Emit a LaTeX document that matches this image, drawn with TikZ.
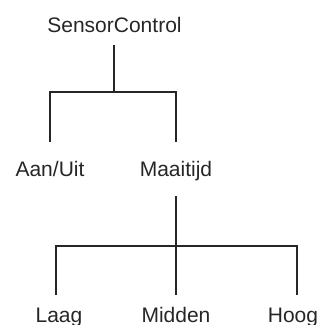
\documentclass[tikz,border=0pt]{standalone}
\usepackage{fontspec}
\setmainfont{Liberation Sans}
\begin{document}
\begin{tikzpicture}[x=1pt,y=1pt,
  lbl/.style={anchor=base,inner sep=0pt,font=\fontsize{21}{24}\selectfont,text=black!85},
  edge/.style={line width=2pt,draw=black!85}]
\useasboundingbox (0,0) rectangle (320,325);
\node[lbl] (root) at (114.5,292) {SensorControl};
\node[lbl] (aan) at (50,148) {Aan/Uit};
\node[lbl] (maa) at (176,148) {Maaitijd};
\node[lbl] (laag) at (59,2) {Laag};
\node[lbl] (mid) at (176,2) {Midden};
\node[lbl] (hoog) at (293,2) {Hoog};
% first level
\coordinate (r0) at ([yshift=-12pt]root.base);
\coordinate (j1) at (114.5,233);
\coordinate (a1) at (50,183);
\coordinate (m1) at (176,183);
\draw[edge] (r0) -- (j1);
\draw[edge] (a1) |- (j1) -| (m1);
% second level
\coordinate (m0) at (176,129);
\coordinate (j2) at (176,79);
\coordinate (l1) at (56,30);
\coordinate (d1) at (176,30);
\coordinate (h1) at (297,30);
\draw[edge] (m0) -- (d1);
\draw[edge] (l1) |- (j2) -| (h1);
\end{tikzpicture}
\end{document}
